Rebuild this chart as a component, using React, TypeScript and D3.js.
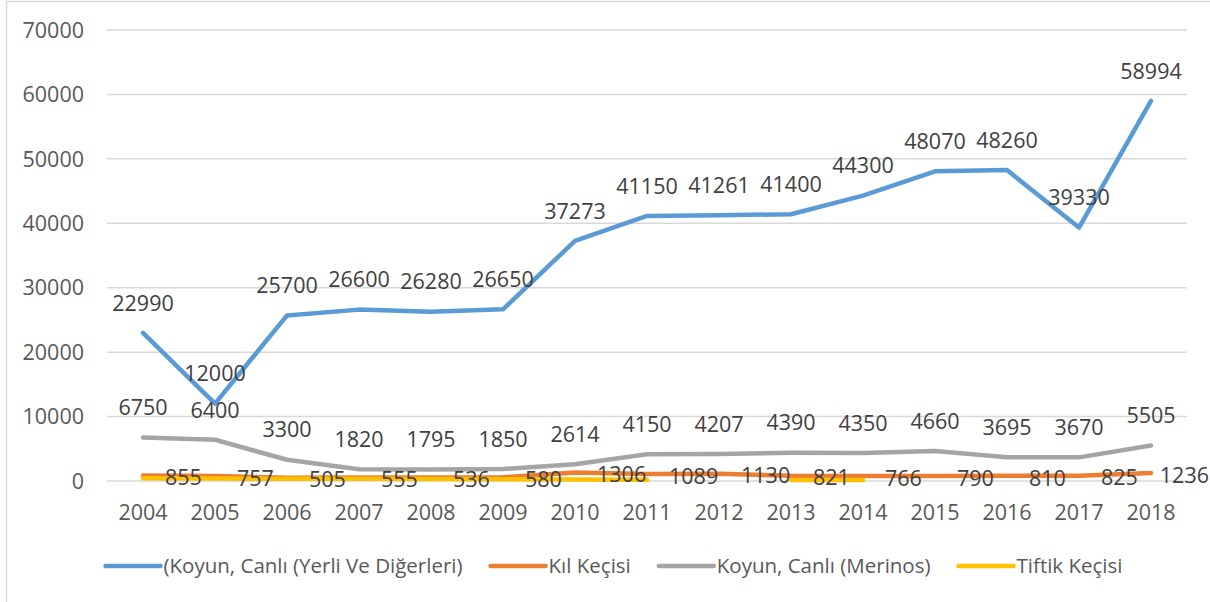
import React, { useEffect, useRef } from "react";
import * as d3 from "d3";

const years = ["2004", "2005", "2006", "2007", "2008", "2009", "2010", "2011", "2012", "2013", "2014", "2015", "2016", "2017", "2018"];
const yerli = [22990, 12000, 25700, 26600, 26280, 26650, 37273, 41150, 41261, 41400, 44300, 48070, 48260, 39330, 58994];
const kil = [855, 757, 505, 555, 536, 580, 1306, 1089, 1130, 821, 766, 790, 810, 825, 1236];
const merinos = [6750, 6400, 3300, 1820, 1795, 1850, 2614, 4150, 4207, 4390, 4350, 4660, 3695, 3670, 5505];
// no labels in the picture for this one, values estimated from the line
const tiftik: (number | null)[] = [420, 390, 350, 330, 310, 280, 230, 190, null, 150, 140, null, null, null, null];
const yTicks = [0, 10000, 20000, 30000, 40000, 50000, 60000, 70000];

const seriesNames = ["(Koyun, Canlı (Yerli Ve Diğerleri)", "Kıl Keçisi", "Koyun, Canlı (Merinos)", "Tiftik Keçisi"];
const colors = ["#5B9BD5", "#ED7D31", "#A5A5A5", "#FFC000"];

const W = 1210;
const H = 602;
const font = "'Open Sans', sans-serif";
const numSize = 21.5;
const legSize = 20.5;

export default function App() {
  const ref = useRef<SVGSVGElement>(null);

  useEffect(() => {
    const svg = d3.select(ref.current);
    svg.selectAll("*").remove();

    const x = d3.scalePoint().domain(years).range([107, 1187]).padding(0.5);
    const y = d3.scaleLinear().domain([0, 70000]).range([481, 30]);

    // chart border (only left/top fall inside the picture)
    svg.append("rect")
      .attr("x", 6.5).attr("y", 1.5)
      .attr("width", W).attr("height", H + 20)
      .attr("fill", "none").attr("stroke", "#D9D9D9").attr("stroke-width", 1.5);

    // grid + y labels
    const grid = svg.append("g");
    grid.selectAll("line").data(yTicks).enter().append("line")
      .attr("x1", 107).attr("x2", 1187)
      .attr("y1", (d) => y(d)).attr("y2", (d) => y(d))
      .attr("stroke", "#D9D9D9").attr("stroke-width", 1.5);
    grid.selectAll("text").data(yTicks).enter().append("text")
      .attr("x", 84).attr("y", (d) => y(d)).attr("dy", "0.36em")
      .attr("text-anchor", "end")
      .attr("font-family", font).attr("font-size", numSize).attr("fill", "#595959")
      .text((d) => String(d));

    // x labels
    svg.append("g").selectAll("text").data(years).enter().append("text")
      .attr("x", (d) => x(d)!).attr("y", 512).attr("dy", "0.36em")
      .attr("text-anchor", "middle")
      .attr("font-family", font).attr("font-size", numSize).attr("fill", "#595959")
      .text((d) => d);

    const allSeries: (number | null)[][] = [yerli, kil, merinos, tiftik];
    const line = d3.line<number | null>()
      .defined((d) => d != null)
      .x((_, i) => x(years[i])!)
      .y((d) => y(d as number));

    allSeries.forEach((s, k) => {
      svg.append("path")
        .datum(s)
        .attr("d", line)
        .attr("fill", "none")
        .attr("stroke", colors[k])
        .attr("stroke-width", 4.5)
        .attr("stroke-linejoin", "round")
        .attr("stroke-linecap", "round");
    });

    // data labels
    const lbl = svg.append("g")
      .attr("font-family", font).attr("font-size", numSize).attr("fill", "#404040");

    [yerli, merinos].forEach((s) => {
      lbl.append("g").selectAll("text").data(s).enter().append("text")
        .attr("x", (_, i) => x(years[i])!)
        .attr("y", (d) => y(d) - 30)
        .attr("dy", "0.36em")
        .attr("text-anchor", "middle")
        .text((d) => String(d));
    });

    lbl.append("g").selectAll("text").data(kil).enter().append("text")
      .attr("x", (_, i) => x(years[i])! + 22)
      .attr("y", (d) => y(d) + 2)
      .attr("dy", "0.36em")
      .text((d) => String(d))
      .each(function () {
        // keep the label inside the chart area like Excel does
        const el = this as SVGTextElement;
        const w = el.getComputedTextLength();
        const cx = +el.getAttribute("x")!;
        if (cx + w > W - 1) el.setAttribute("x", String(W - 1 - w));
      });

    // legend
    const leg = svg.append("g");
    const items = seriesNames.map((name, k) => {
      const g = leg.append("g");
      g.append("line")
        .attr("x1", 0).attr("x2", 55).attr("y1", 0).attr("y2", 0)
        .attr("stroke", colors[k]).attr("stroke-width", 4.5)
        .attr("stroke-linecap", "round");
      const t = g.append("text")
        .attr("x", 58).attr("y", 0).attr("dy", "0.36em")
        .attr("font-family", font).attr("font-size", legSize).attr("fill", "#595959")
        .text(name);
      const w = 58 + (t.node() as SVGTextElement).getComputedTextLength();
      return { g, w };
    });
    const gap = 28;
    const total = d3.sum(items, (d) => d.w) + gap * (items.length - 1);
    let cx = 614 - total / 2;
    items.forEach((it) => {
      it.g.attr("transform", `translate(${cx},566)`);
      cx += it.w + gap;
    });
  }, []);

  return (
    <svg
      ref={ref}
      width={W}
      height={H}
      style={{ position: "absolute", left: 0, top: 0, background: "#fff" }}
    />
  );
}
